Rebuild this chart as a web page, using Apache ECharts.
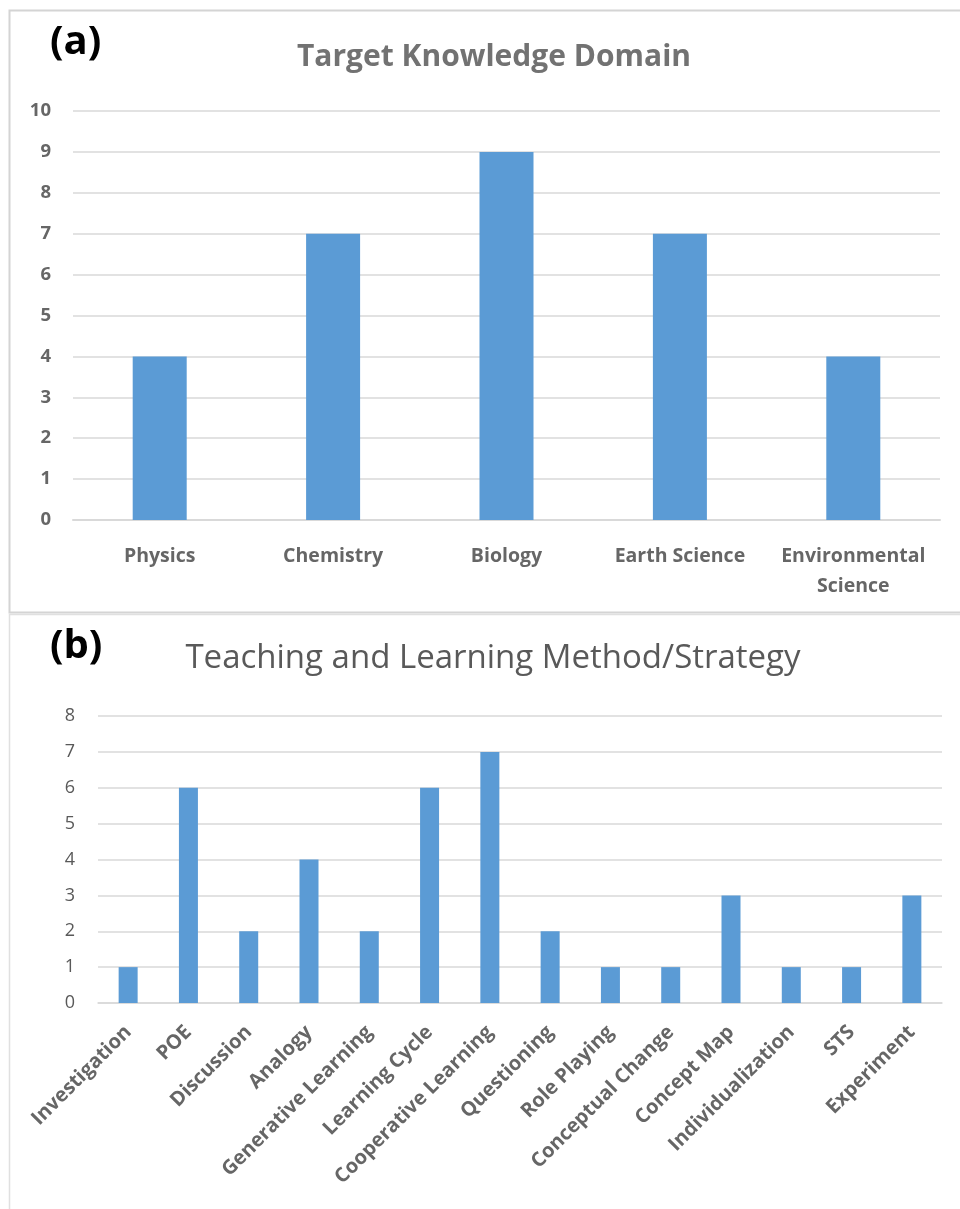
<!DOCTYPE html>
<html><head><meta charset="utf-8">
<script src="https://cdn.jsdelivr.net/npm/echarts@6/dist/echarts.min.js"></script>
<style>html,body{margin:0;padding:0;background:#fff}#c{width:960px;height:1209px}</style>
</head><body><div id="c"></div>
<script>
const domainCategories = ['Physics', 'Chemistry', 'Biology', 'Earth Science', 'Environmental\nScience'];
const domainValues = [4, 7, 9, 7, 4];
const methodCategories = ['Investigation', 'POE', 'Discussion', 'Analogy', 'Generative Learning', 'Learning Cycle', 'Cooperative Learning', 'Questioning', 'Role Playing', 'Conceptual Change', 'Concept Map', 'Individualization', 'STS', 'Experiment'];
const methodValues = [1, 6, 2, 4, 2, 6, 7, 2, 1, 1, 3, 1, 1, 3];
const titleA = 'Target Knowledge Domain';
const titleB = 'Teaching and Learning Method/Strategy';

const font = '"Open Sans", sans-serif';
const gray = '#595959';
const chart = echarts.init(document.getElementById('c'), null, {renderer: 'canvas'});
chart.setOption({
  animation: false,
  backgroundColor: '#fff',
  title: [
    {text: titleA, left: 489, top: 37, textAlign: 'center', textStyle: {fontFamily: font, fontSize: 30, fontWeight: 'bold', color: '#727272'}},
    {text: titleB, left: 488, top: 637, textAlign: 'center', textStyle: {fontFamily: font, fontSize: 33, fontWeight: 'normal', color: gray}}
  ],
  graphic: [
    {type: 'rect', shape: {x: 9.5, y: 10.5, width: 960, height: 602}, style: {fill: 'none', stroke: '#d4d4d4', lineWidth: 2}, silent: true},
    {type: 'rect', shape: {x: 9.5, y: 614.5, width: 960, height: 600}, style: {fill: 'none', stroke: '#e0e0e0', lineWidth: 1.5}, silent: true},
    {type: 'text', left: 50, top: 23, style: {text: '(a)', font: 'bold 40px "Open Sans", sans-serif', fill: '#000'}},
    {type: 'text', left: 50, top: 627, style: {text: '(b)', font: 'bold 40px "Open Sans", sans-serif', fill: '#000'}}
  ],
  grid: [
    {left: 73, right: 20, top: 111, height: 409},
    {left: 98, right: 18, top: 716, height: 287}
  ],
  xAxis: [
    {type: 'category', gridIndex: 0, data: domainCategories,
     axisLine: {lineStyle: {color: '#d9d9d9', width: 2}}, axisTick: {show: false},
     axisLabel: {fontFamily: font, fontSize: 19.5, fontWeight: 'bold', color: '#666', margin: 21, lineHeight: 30, interval: 0}},
    {type: 'category', gridIndex: 1, data: methodCategories,
     axisLine: {lineStyle: {color: '#d9d9d9', width: 1.5}}, axisTick: {show: false},
     axisLabel: {fontFamily: font, fontSize: 20, fontWeight: 'bold', color: '#666', margin: 26, rotate: 45, interval: 0}}
  ],
  yAxis: [
    {type: 'value', gridIndex: 0, min: 0, max: 10, interval: 1,
     axisLine: {show: false}, axisTick: {show: false},
     splitLine: {lineStyle: {color: '#d9d9d9', width: 1.5}},
     axisLabel: {fontFamily: font, fontSize: 18.5, fontWeight: 'bold', color: '#666', margin: 22}},
    {type: 'value', gridIndex: 1, min: 0, max: 8, interval: 1,
     axisLine: {show: false}, axisTick: {show: false},
     splitLine: {lineStyle: {color: '#d9d9d9', width: 1.5}},
     axisLabel: {fontFamily: font, fontSize: 18, color: gray, margin: 23}}
  ],
  series: [
    {type: 'bar', xAxisIndex: 0, yAxisIndex: 0, data: domainValues, barWidth: 54, itemStyle: {color: '#5b9bd5'}},
    {type: 'bar', xAxisIndex: 1, yAxisIndex: 1, data: methodValues, barWidth: 19, itemStyle: {color: '#5b9bd5'}}
  ]
});
</script></body></html>
